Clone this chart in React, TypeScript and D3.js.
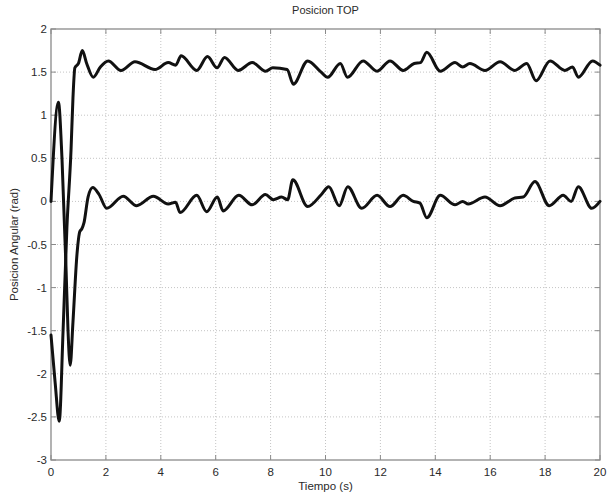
import React from 'react'
import * as d3 from 'd3'

// [tiempo (s), posicion (rad)]
const topJoint: [number, number][] = [
  [0, -1.55], [0.15, -2.1], [0.3, -2.55], [0.44, -1.5], [0.58, -0.3], [0.73, 0.6],
  [0.8, 1.2], [0.87, 1.55], [1.0, 1.6], [1.14, 1.75], [1.3, 1.6], [1.54, 1.44],
  [1.8, 1.56], [2.09, 1.63], [2.55, 1.52], [3.06, 1.62], [3.79, 1.53], [4.27, 1.61],
  [4.54, 1.58], [4.74, 1.69], [5.31, 1.52], [5.7, 1.68], [6.05, 1.55], [6.32, 1.67],
  [6.82, 1.52], [7.33, 1.61], [7.82, 1.51], [8.08, 1.55], [8.6, 1.53], [8.83, 1.36],
  [9.35, 1.63], [9.84, 1.5], [10.08, 1.44], [10.54, 1.6], [10.8, 1.44], [11.37, 1.63],
  [11.88, 1.51], [12.35, 1.63], [12.83, 1.52], [13.23, 1.6], [13.46, 1.61], [13.69, 1.73],
  [14.18, 1.51], [14.72, 1.61], [15.0, 1.56], [15.26, 1.6], [15.81, 1.52], [16.36, 1.62],
  [16.9, 1.52], [17.33, 1.6], [17.67, 1.4], [18.18, 1.63], [18.72, 1.52], [19.0, 1.56],
  [19.21, 1.44], [19.73, 1.63], [20, 1.58]
]

const bottomJoint: [number, number][] = [
  [0, 0.0], [0.27, 1.15], [0.4, 0.5], [0.55, -0.8], [0.62, -1.5], [0.7, -1.9],
  [0.8, -1.4], [0.95, -0.6], [1.05, -0.35], [1.12, -0.32], [1.2, -0.25], [1.35, 0.05],
  [1.52, 0.16], [1.75, 0.08], [2.03, -0.08], [2.63, 0.06], [3.12, -0.05], [3.73, 0.06],
  [4.27, -0.03], [4.54, -0.01], [4.7, -0.13], [5.31, 0.07], [5.67, -0.12], [6.06, 0.05],
  [6.27, -0.11], [6.84, 0.07], [7.33, -0.04], [7.81, 0.08], [8.1, 0.02], [8.4, 0.05],
  [8.62, 0.02], [8.81, 0.25], [9.35, -0.06], [9.85, 0.08], [10.12, 0.17], [10.5, -0.05],
  [10.81, 0.17], [11.32, -0.08], [11.88, 0.07], [12.35, -0.06], [12.83, 0.07], [13.2, 0.0],
  [13.44, -0.02], [13.69, -0.19], [14.18, 0.07], [14.72, -0.04], [15.0, 0.0], [15.2, -0.03],
  [15.81, 0.05], [16.36, -0.05], [16.9, 0.04], [17.2, 0.05], [17.63, 0.23], [18.15, -0.05],
  [18.66, 0.07], [18.95, 0.0], [19.21, 0.17], [19.7, -0.08], [20, 0.0]
]

const xTicks = [0, 2, 4, 6, 8, 10, 12, 14, 16, 18, 20]
const yTicks = [-3, -2.5, -2, -1.5, -1, -0.5, 0, 0.5, 1, 1.5, 2]

const width = 607
const height = 496
const left = 51
const right = 600
const top = 29
const bottom = 460

const font = '"Liberation Sans", Arial, sans-serif'
const axisColor = '#8a8a8a'
const textColor = '#2a2a2a'

const App = () => {
  const x = d3.scaleLinear().domain([0, 20]).range([left, right])
  const y = d3.scaleLinear().domain([-3, 2]).range([bottom, top])
  const line = d3
    .line<[number, number]>()
    .x(d => x(d[0]))
    .y(d => y(d[1]))
    .curve(d3.curveMonotoneX)

  return (
    <svg
      width={width}
      height={height}
      style={{ position: 'absolute', left: 0, top: 0, background: '#fff' }}
      fontFamily={font}
    >
      {/* grid */}
      {xTicks.slice(1, -1).map(t => (
        <line key={'gx' + t} x1={x(t)} x2={x(t)} y1={top} y2={bottom}
          stroke="#c4c4c4" strokeWidth={1} strokeDasharray="1,2" />
      ))}
      {yTicks.slice(1, -1).map(t => (
        <line key={'gy' + t} x1={left} x2={right} y1={y(t)} y2={y(t)}
          stroke="#c4c4c4" strokeWidth={1} strokeDasharray="1,2" />
      ))}

      {/* frame and ticks */}
      <rect x={left} y={top} width={right - left} height={bottom - top}
        fill="none" stroke={axisColor} strokeWidth={1.3} />
      {xTicks.map(t => (
        <g key={'tx' + t}>
          <line x1={x(t)} x2={x(t)} y1={bottom} y2={bottom - 5} stroke={axisColor} />
          <line x1={x(t)} x2={x(t)} y1={top} y2={top + 5} stroke={axisColor} />
          <text x={x(t)} y={bottom + 16} textAnchor="middle" fontSize={11.5} fill={textColor}>
            {t}
          </text>
        </g>
      ))}
      {yTicks.map(t => (
        <g key={'ty' + t}>
          <line x1={left} x2={left + 5} y1={y(t)} y2={y(t)} stroke={axisColor} />
          <line x1={right} x2={right - 5} y1={y(t)} y2={y(t)} stroke={axisColor} />
          <text x={left - 4} y={y(t) + 4} textAnchor="end" fontSize={11.5} fill={textColor}>
            {t}
          </text>
        </g>
      ))}

      {/* series */}
      <path d={line(topJoint) ?? ''} fill="none" stroke="#111" strokeWidth={3}
        strokeLinejoin="round" strokeLinecap="round" />
      <path d={line(bottomJoint) ?? ''} fill="none" stroke="#111" strokeWidth={3}
        strokeLinejoin="round" strokeLinecap="round" />

      {/* labels */}
      <text x={(left + right) / 2} y={14} textAnchor="middle" fontSize={11} fill={textColor}>
        Posicion TOP
      </text>
      <text x={(left + right) / 2} y={490} textAnchor="middle" fontSize={11.5} fill={textColor}>
        Tiempo (s)
      </text>
      <text transform={`translate(18, ${(top + bottom) / 2}) rotate(-90)`} textAnchor="middle"
        fontSize={11.5} fill={textColor}>
        Posicion Angular (rad)
      </text>
    </svg>
  )
}

export default App
